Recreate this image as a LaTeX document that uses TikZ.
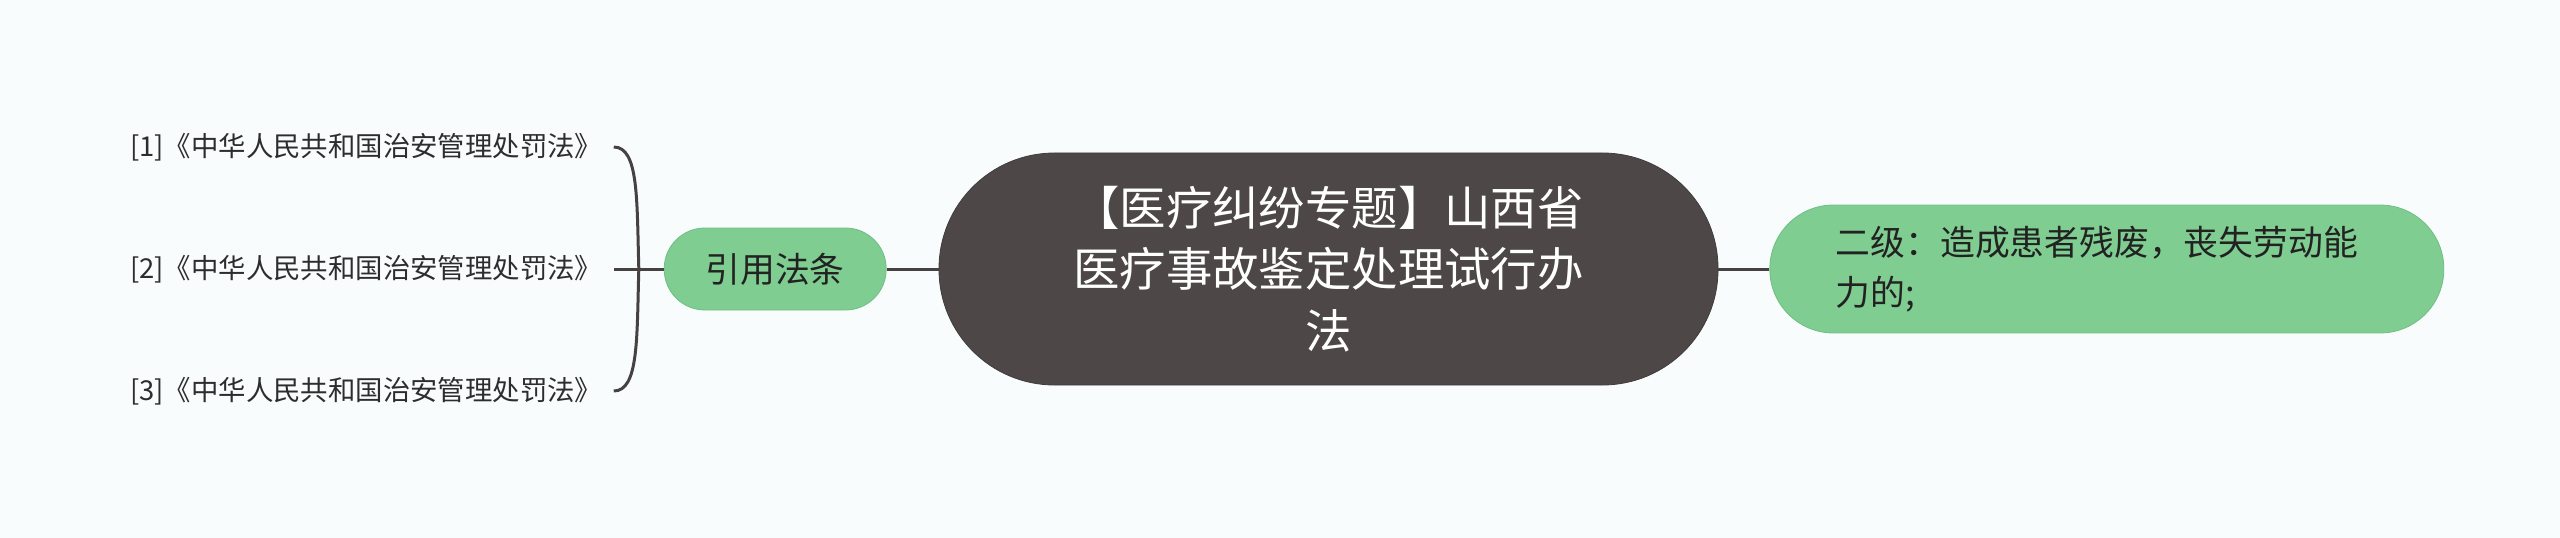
\documentclass[tikz,border=0pt]{standalone}
\usepackage{fontspec}
\setmainfont{Noto Sans CJK SC}
\usepackage{tikz}
\definecolor{paper}{RGB}{248,252,253}
\definecolor{topicgray}{RGB}{77,71,71}
\definecolor{leafgreen}{RGB}{128,205,146}
\definecolor{leafedge}{RGB}{112,190,132}
\definecolor{linkgray}{RGB}{70,66,66}
\definecolor{inkdark}{RGB}{34,34,34}
\definecolor{inklaw}{RGB}{45,45,45}

\begin{document}
\begin{tikzpicture}[
    topicbox/.style={fill=topicgray, draw=topicgray!85!black, line width=0.4pt, rounded corners=2.03cm,
        minimum width=13.69cm, minimum height=4.077cm, text=white, align=center,
        font=\fontsize{23.2}{30.8}\selectfont},
    citebox/.style={fill=leafgreen, draw=leafedge, line width=0.4pt, rounded corners=0.715cm,
        minimum width=3.901cm, minimum height=1.441cm, text=inkdark,
        font=\fontsize{17.4}{25}\selectfont},
    gradebox/.style={fill=leafgreen, draw=leafedge, line width=0.4pt, rounded corners=1.12cm,
        minimum width=11.844cm, minimum height=2.249cm, text=inkdark, text width=9.52cm, align=left,
        font=\fontsize{17.4}{25}\selectfont},
    lawtext/.style={inner sep=0pt, text=inklaw, font=\fontsize{13.7}{16}\selectfont},
    link/.style={draw=linkgray, line width=1.5pt}
]
    \useasboundingbox (0.0, 0.0) rectangle (44.987, -9.454);
    \fill [paper] (0.0, 0.0) rectangle (44.987, -9.454);

    \node [topicbox] (topic) at (23.346, -4.727)
        {【医疗纠纷专题】山西省\\医疗事故鉴定处理试行办\\法};

    \node [citebox, anchor=east] (cite) at ([shift={(-0.914, 0.00)}]topic.west) {引用法条};
    \node [gradebox, anchor=west] (grade) at ([shift={(0.896, 0.00)}]topic.east)
        {二级：造成患者残废，丧失劳动能\\力的;};

    \node [lawtext, anchor=east] (law_1) at ([shift={(-1.072, 2.144)}]cite.west) {[1]《中华人民共和国治安管理处罚法》};
    \node [lawtext, anchor=east] (law_2) at ([shift={(-1.072, 0.00)}]cite.west) {[2]《中华人民共和国治安管理处罚法》};
    \node [lawtext, anchor=east] (law_3) at ([shift={(-1.072, -2.144)}]cite.west) {[3]《中华人民共和国治安管理处罚法》};

    \coordinate (brace_top) at ([shift={(0.193, 0.00)}]law_1.east);
    \coordinate (brace_mid) at ([shift={(0.633, 0.00)}]law_2.east);
    \coordinate (brace_bot) at ([shift={(0.193, 0.00)}]law_3.east);
    \coordinate (brace_tip) at ([shift={(0.193, 0.00)}]law_2.east);

    \draw [link] (topic.west) -- (cite.east);
    \draw [link] (topic.east) -- (grade.west);
    \draw [link] (cite.west) -- (brace_tip);
    \draw [link] (brace_top) .. controls +(0.44, 0.00) and +(-0.035, 1.213) .. (brace_mid)
        .. controls +(-0.035, -1.213) and +(0.44, 0.00) .. (brace_bot);

\end{tikzpicture}
\end{document}
